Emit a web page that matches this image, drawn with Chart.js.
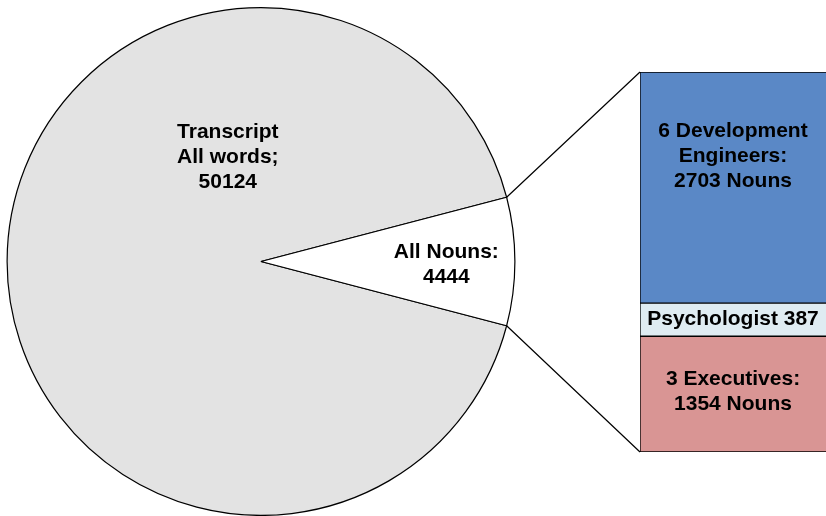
<!DOCTYPE html>
<html>
<head>
<meta charset="utf-8">
<script src="https://cdn.jsdelivr.net/npm/chart.js@4.4.0/dist/chart.umd.min.js"></script>
<style>
  html, body { margin: 0; padding: 0; background: #ffffff; }
  #wrap { position: relative; width: 826px; height: 516px; overflow: hidden; }
  canvas { position: absolute; left: 0; top: 0; }
</style>
</head>
<body>
<div id="wrap">
  <canvas id="pie" width="826" height="516"></canvas>
  <canvas id="bar" width="826" height="516"></canvas>
</div>
<script>
// ---- data ----
const pieCategories = ['Transcript All words', 'All Nouns'];
const pieValues = [50124, 4444];
const pieLabelLines = [['Transcript', 'All words;', '50124'], ['All Nouns:', '4444']];

const barCategories = ['3 Executives', 'Psychologist', '6 Development Engineers'];
const barValues = [1354, 387, 2703];
const barLabelLines = [['3 Executives:', '1354 Nouns'], ['Psychologist 387'], ['6 Development', 'Engineers:', '2703 Nouns']];

// ---- styles ----
const pieColors = ['#e3e3e3', '#ffffff'];
const barColors = ['#d99594', '#dfecf2', '#5a88c6'];
const FONT = 'bold 21px "Liberation Sans", Arial, sans-serif';
const LINE_H = 25;

function drawLines(ctx, lines, x, y) {
  ctx.save();
  ctx.font = FONT;
  ctx.fillStyle = '#000';
  ctx.textAlign = 'center';
  ctx.textBaseline = 'middle';
  const y0 = y - (lines.length - 1) * LINE_H / 2;
  lines.forEach((t, i) => ctx.fillText(t, x, y0 + i * LINE_H));
  ctx.restore();
}

const pieTotal = pieValues.reduce((a, b) => a + b, 0);
const smallSweep = pieValues[1] / pieTotal * 360;

const pieLabelPlugin = {
  id: 'pieLabels',
  afterDatasetsDraw(chart) {
    const ctx = chart.ctx;
    const arcs = chart.getDatasetMeta(0).data;
    // big slice label: placed up-left of the centre
    const a0 = arcs[0];
    const ang0 = -107.7 * Math.PI / 180;
    drawLines(ctx, pieLabelLines[0], a0.x + Math.cos(ang0) * a0.outerRadius * 0.43, a0.y + Math.sin(ang0) * a0.outerRadius * 0.43);
    // small slice label: along mid angle
    const a1 = arcs[1];
    const mid = (a1.startAngle + a1.endAngle) / 2;
    drawLines(ctx, pieLabelLines[1], a1.x + Math.cos(mid) * a1.outerRadius * 0.73, a1.y + Math.sin(mid) * a1.outerRadius * 0.73 + 3);
  }
};

// rotation so the small slice is centred on the right (angle 0)
const pieRotation = 90 + smallSweep / 2;

const pieChart = new Chart(document.getElementById('pie'), {
  type: 'pie',
  data: {
    labels: pieCategories,
    datasets: [{
      data: pieValues,
      backgroundColor: pieColors,
      borderColor: '#000000',
      borderWidth: 1.2
    }]
  },
  options: {
    responsive: false,
    animation: false,
    rotation: pieRotation,
    layout: { padding: { left: 6, top: 7, right: 310, bottom: 0 } },
    plugins: { legend: { display: false }, tooltip: { enabled: false } }
  },
  plugins: [pieLabelPlugin]
});

const barTotal = barValues.reduce((a, b) => a + b, 0);

const barOverlayPlugin = {
  id: 'barOverlay',
  afterDatasetsDraw(chart) {
    const ctx = chart.ctx;
    // segment labels
    const topOffsets = [null, null, 84];
    chart.data.datasets.forEach((ds, i) => {
      const el = chart.getDatasetMeta(i).data[0];
      const top = Math.min(el.y, el.base);
      const bottom = Math.max(el.y, el.base);
      const y = topOffsets[i] != null ? top + topOffsets[i] : (top + bottom) / 2 - (i === 0 ? 2 : 0);
      drawLines(ctx, barLabelLines[i], el.x, y);
    });
    // connector lines from the small pie slice to the bar
    const arc = pieChart.getDatasetMeta(0).data[1];
    const r = arc.outerRadius;
    const p1 = { x: arc.x + Math.cos(arc.startAngle) * r, y: arc.y + Math.sin(arc.startAngle) * r };
    const p2 = { x: arc.x + Math.cos(arc.endAngle) * r, y: arc.y + Math.sin(arc.endAngle) * r };
    const topEl = chart.getDatasetMeta(2).data[0];
    const botEl = chart.getDatasetMeta(0).data[0];
    const left = topEl.x - topEl.width / 2;
    const barTop = Math.min(topEl.y, topEl.base);
    const barBot = Math.max(botEl.y, botEl.base);
    ctx.save();
    ctx.strokeStyle = '#000';
    ctx.lineWidth = 1.2;
    ctx.beginPath();
    ctx.moveTo(p1.x, p1.y); ctx.lineTo(left, barTop);
    ctx.moveTo(p2.x, p2.y); ctx.lineTo(left, barBot);
    ctx.stroke();
    ctx.restore();
  }
};

new Chart(document.getElementById('bar'), {
  type: 'bar',
  data: {
    labels: ['All Nouns'],
    datasets: barValues.map((v, i) => ({
      label: barCategories[i],
      data: [v],
      backgroundColor: barColors[i],
      borderColor: '#000000',
      borderWidth: { top: 1, left: 1, bottom: 1, right: 0 },
      borderSkipped: false,
      categoryPercentage: 1,
      barPercentage: 1
    }))
  },
  options: {
    responsive: false,
    animation: false,
    layout: { padding: { left: 640, top: 72, right: 0, bottom: 64 } },
    scales: {
      x: { display: false, stacked: true },
      y: { display: false, stacked: true, min: 0, max: barTotal }
    },
    plugins: { legend: { display: false }, tooltip: { enabled: false } }
  },
  plugins: [barOverlayPlugin]
});
</script>
</body>
</html>
